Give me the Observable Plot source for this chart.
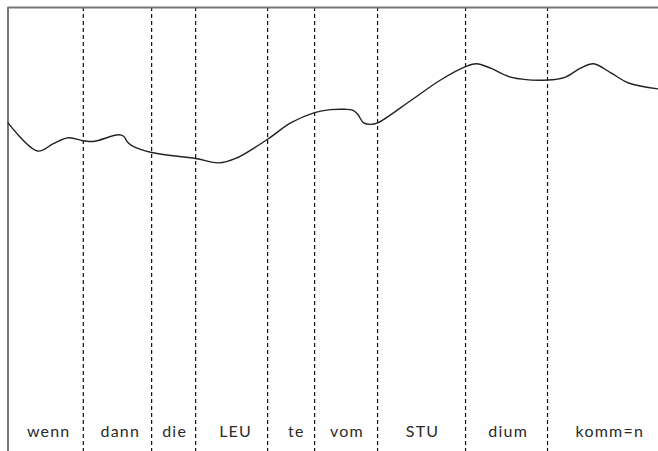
<!DOCTYPE html>
<html>
<head>
<meta charset="utf-8">
<script src="https://cdn.jsdelivr.net/npm/d3@7"></script>
<script src="https://cdn.jsdelivr.net/npm/@observablehq/plot@0.6"></script>
<style>
  html, body { margin: 0; padding: 0; background: #fff; }
</style>
</head>
<body>
<div id="chart"></div>
<script>
// Syllable labels and their centre times (ms)
const syllables = ["wenn", "dann", "die", "LEU", "te", "vom", "STU", "dium", "komm=n"];
const labelTimes = [122, 337, 500, 683, 865, 1017, 1244, 1501, 1806];
// Syllable boundaries (ms)
const boundaries = [226, 431, 563, 779, 920, 1109, 1373, 1619];
// Pitch contour: time (ms) and F0 (Hz)
const times = [0, 89, 136, 181, 226, 257, 331, 347, 359, 377, 431, 563, 632, 683, 779, 848, 920, 968, 1010, 1034, 1049, 1067, 1088, 1109, 1208, 1298, 1373, 1406, 1448, 1508, 1619, 1673, 1718, 1757, 1808, 1862, 1952];
const f0 =    [272, 253, 258, 262, 260, 259.5, 264, 263, 259, 256, 252, 248, 245, 248, 261, 272, 279, 281, 281.2, 280.6, 278, 272, 271, 272, 287, 301, 310, 312, 309, 303, 301, 303, 309, 312, 306, 299, 295];

const contour = times.map((t, i) => ({t, f0: f0[i]}));
const labels = syllables.map((s, i) => ({s, t: labelTimes[i]}));

const chart = Plot.plot({
  width: 658,
  height: 451,
  marginLeft: 7.5,
  marginRight: 0,
  marginTop: 7,
  marginBottom: 0,
  x: {domain: [0, 1952], axis: null},
  y: {domain: [50, 350], axis: null},
  style: {fontFamily: "Lato, 'Open Sans', sans-serif", letterSpacing: "1.2px", background: "#fff"},
  marks: [
    Plot.ruleX(boundaries, {stroke: "#111", strokeWidth: 1.2, strokeDasharray: "4,3"}),
    Plot.ruleY([350], {stroke: "#777", strokeWidth: 2}),
    Plot.ruleX([0], {stroke: "#777", strokeWidth: 2}),
    Plot.line(contour, {x: "t", y: "f0", curve: "catmull-rom", stroke: "#222", strokeWidth: 1.4}),
    Plot.text(labels, {x: "t", text: "s", frameAnchor: "bottom", dy: -15, fontSize: 16, fill: "#2a2a2a"})
  ]
});
document.getElementById("chart").appendChild(chart);
</script>
</body>
</html>
